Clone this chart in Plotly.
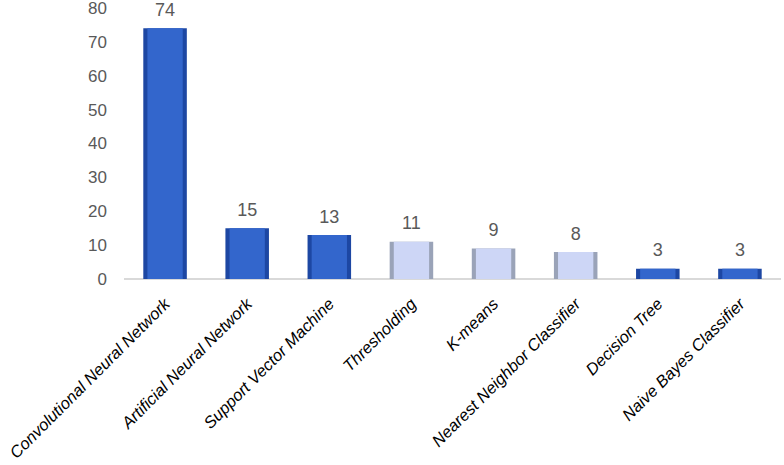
import plotly.graph_objects as go

methods = [
    "Convolutional Neural Network",
    "Artificial Neural Network",
    "Support Vector Machine",
    "Thresholding",
    "K-means",
    "Nearest Neighbor Classifier",
    "Decision Tree",
    "Naive Bayes Classifier",
]
counts = [74, 15, 13, 11, 9, 8, 3, 3]
y_ticks = [0, 10, 20, 30, 40, 50, 60, 70, 80]

# dark blue for the first three and last two, pale lavender in the middle
is_light = [False, False, False, True, True, True, False, False]
edge_cols = ["#9AA3B8" if l else "#1D47A3" for l in is_light]
face_cols = ["#CDD6F6" if l else "#3366CC" for l in is_light]

grey = "#595959"

# outer bar acts as the bevel edge, narrower inner bar is the face
outer = go.Bar(
    x=methods, y=counts, width=0.53,
    marker=dict(color=edge_cols, line=dict(width=0)),
    hoverinfo="skip",
)
inner = go.Bar(
    x=methods, y=counts, width=0.43,
    marker=dict(color=face_cols, line=dict(width=0)),
    hoverinfo="x+y",
)
# value labels, pushed up a bit by an invisible marker
labels = go.Scatter(
    x=methods, y=counts, mode="markers+text",
    marker=dict(size=11, color="rgba(0,0,0,0)"),
    text=[str(c) for c in counts], textposition="top center",
    textfont=dict(family="Liberation Sans", size=18, color=grey),
    cliponaxis=False, hoverinfo="skip",
)

fig = go.Figure(data=[outer, inner, labels])
fig.update_layout(
    width=784, height=465,
    margin=dict(l=124, r=3, t=7, b=186, autoexpand=False),
    barmode="overlay",
    showlegend=False,
    plot_bgcolor="white", paper_bgcolor="white",
    font=dict(family="Liberation Sans", color=grey),
)
fig.update_xaxes(
    tickangle=-45, automargin=False,
    tickfont=dict(family="Liberation Sans", size=16.5, color="black", style="italic"),
    showline=False, showgrid=False, ticks="", ticklabelstandoff=11,
)
fig.update_yaxes(
    range=[0, 80.3], tickvals=y_ticks, automargin=False,
    tickfont=dict(family="Liberation Sans", size=17, color=grey),
    showgrid=False, zeroline=True, zerolinecolor="#D9D9D9", zerolinewidth=2,
    ticklabelstandoff=16, showline=False, ticklabeloverflow="allow",
)

# drop the browser's default 8px body margin so the figure sits at 0,0
fig.write_html("out.html", config={"displayModeBar": False},
               post_script="document.body.style.margin='0';")
